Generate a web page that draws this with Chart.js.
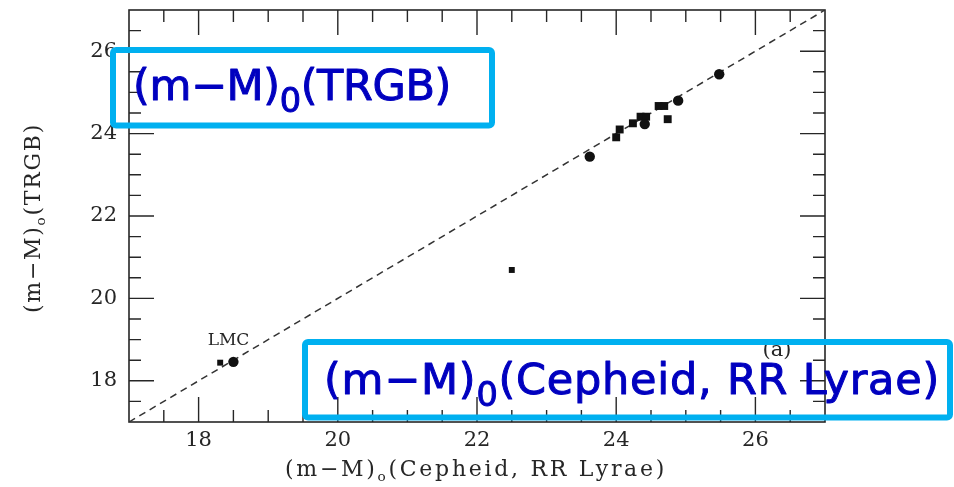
<!DOCTYPE html>
<html>
<head>
<meta charset="utf-8">
<script src="https://cdn.jsdelivr.net/npm/chart.js@4.4.1/dist/chart.umd.min.js"></script>
<style>
  html, body { margin: 0; padding: 0; background: #ffffff; }
  #wrap { width: 954px; height: 487px; position: relative; }
</style>
</head>
<body>
<div id="wrap"><canvas id="c" width="954" height="487"></canvas></div>
<script>
// Distance moduli: TRGB versus Cepheid / RR Lyrae
const axisMin = 17;
const axisMax = 27;
const tickLabels = [18, 20, 22, 24, 26];
const minorStep = 0.5;

// galaxies with filled circles
const circleX = [23.62, 24.41, 24.89, 25.48, 18.50];
const circleY = [23.44, 24.23, 24.80, 25.44, 18.46];
// galaxies with filled squares
const squareX = [24.00, 24.05, 24.24, 24.35, 24.43, 24.61, 24.69, 24.74];
const squareY = [23.91, 24.10, 24.25, 24.41, 24.41, 24.67, 24.67, 24.35];
// small markers (LMC companion point and the outlier)
const smallX = [18.31, 22.50];
const smallY = [18.44, 20.69];
// one-to-one reference line
const lineX = [17, 27];
const lineY = [17, 27];

const xTitle = [{ t: '(m\u2212M)' }, { t: 'o', sub: true }, { t: '(Cepheid, RR Lyrae)' }];
const yTitle = [{ t: '(m\u2212M)' }, { t: 'o', sub: true }, { t: '(TRGB)' }];
const noteTop = [{ t: '(m\u2212M)' }, { t: '0', sub: true }, { t: '(TRGB)' }];
const noteBottom = [{ t: '(m\u2212M)' }, { t: '0', sub: true }, { t: '(Cepheid, RR Lyrae)' }];
const panelTag = '(a)';
const lmcTag = 'LMC';

const zip = (xs, ys) => xs.map((x, i) => ({ x: x, y: ys[i] }));

const INK = '#262626';
const SERIF = '"DejaVu Serif", "Liberation Serif", serif';
const SANS = '"DejaVu Sans", "Noto Sans", sans-serif';

// text runs with subscript pieces
function richWidth(ctx, parts, size, subScale, family) {
  let w = 0;
  parts.forEach(p => {
    ctx.font = (p.sub ? size * subScale : size) + 'px ' + family;
    w += ctx.measureText(p.t).width;
  });
  return w;
}
function drawRich(ctx, parts, x, y, size, subScale, subDrop, family, outline) {
  let cx = x;
  parts.forEach(p => {
    ctx.font = (p.sub ? size * subScale : size) + 'px ' + family;
    const yy = p.sub ? y + subDrop : y;
    ctx.fillText(p.t, cx, yy);
    if (outline) ctx.strokeText(p.t, cx, yy);
    cx += ctx.measureText(p.t).width;
  });
}
function countChars(parts) {
  return parts.reduce((n, p) => n + p.t.length, 0);
}
// spread a run so that it spans the given width
function fitSpacing(ctx, parts, size, subScale, family, width) {
  ctx.letterSpacing = '0px';
  const natural = richWidth(ctx, parts, size, subScale, family);
  ctx.letterSpacing = ((width - natural) / countChars(parts)) + 'px';
}

const framePlugin = {
  id: 'frame',
  beforeDatasetsDraw(chart) {
    const ctx = chart.ctx;
    const a = chart.chartArea;
    const xs = chart.scales.x, ys = chart.scales.y;
    ctx.save();
    ctx.strokeStyle = INK;
    ctx.lineWidth = 1.6;
    ctx.strokeRect(a.left, a.top, a.right - a.left, a.bottom - a.top);

    // inward ticks on all four sides
    const majorLen = 25, minorLen = 12;
    ctx.lineWidth = 1.4;
    for (let v = axisMin + minorStep; v < axisMax - 1e-6; v += minorStep) {
      const isMajor = tickLabels.some(t => Math.abs(t - v) < 1e-6);
      const len = isMajor ? majorLen : minorLen;
      const px = xs.getPixelForValue(v);
      const py = ys.getPixelForValue(v);
      ctx.beginPath();
      ctx.moveTo(px, a.bottom); ctx.lineTo(px, a.bottom - len);
      ctx.moveTo(px, a.top); ctx.lineTo(px, a.top + len);
      ctx.moveTo(a.left, py); ctx.lineTo(a.left + len, py);
      ctx.moveTo(a.right, py); ctx.lineTo(a.right - len, py);
      ctx.stroke();
    }

    // tick labels
    ctx.fillStyle = INK;
    ctx.font = '21px ' + SERIF;
    ctx.textBaseline = 'middle';
    ctx.textAlign = 'center';
    tickLabels.forEach(t => {
      ctx.fillText(String(t), xs.getPixelForValue(t), a.bottom + 19);
    });
    ctx.textAlign = 'right';
    tickLabels.forEach(t => {
      ctx.fillText(String(t), a.left - 12, ys.getPixelForValue(t));
    });

    // axis titles
    ctx.textAlign = 'left';
    ctx.textBaseline = 'alphabetic';
    const tSize = 22, tSub = 0.62, tDrop = 5;
    fitSpacing(ctx, xTitle, tSize, tSub, SERIF, 382);
    let full = richWidth(ctx, xTitle, tSize, tSub, SERIF);
    const xMid = (a.left + a.right) / 2 - 1;
    drawRich(ctx, xTitle, xMid - full / 2, a.bottom + 54, tSize, tSub, tDrop, SERIF);

    fitSpacing(ctx, yTitle, tSize, tSub, SERIF, 190);
    full = richWidth(ctx, yTitle, tSize, tSub, SERIF);
    ctx.translate(40, 218);
    ctx.rotate(-Math.PI / 2);
    drawRich(ctx, yTitle, -full / 2, 0, tSize, tSub, tDrop, SERIF);
    ctx.restore();

    // panel tag and LMC label
    ctx.save();
    ctx.fillStyle = INK;
    ctx.textAlign = 'center';
    ctx.textBaseline = 'middle';
    ctx.font = '21px ' + SERIF;
    ctx.fillText(panelTag, 777, 351);
    ctx.font = '17px ' + SERIF;
    ctx.fillText(lmcTag, xs.getPixelForValue(18.43), ys.getPixelForValue(18.98));
    ctx.restore();
  },
  afterDraw(chart) {
    // highlighted axis names drawn over the plot
    const ctx = chart.ctx;
    ctx.save();
    ctx.strokeStyle = '#00B0F0';
    ctx.lineWidth = 6;
    ctx.lineJoin = 'round';
    ctx.beginPath();
    ctx.roundRect(113, 50, 379, 75.5, 3);
    ctx.stroke();
    ctx.beginPath();
    ctx.roundRect(305, 342, 645, 75.5, 3);
    ctx.stroke();

    ctx.fillStyle = '#0000BF';
    ctx.strokeStyle = '#0000BF';
    ctx.lineWidth = 1;
    ctx.textAlign = 'left';
    ctx.textBaseline = 'alphabetic';
    fitSpacing(ctx, noteTop, 43, 0.78, SANS, 318);
    drawRich(ctx, noteTop, 133, 100, 43, 0.78, 12, SANS, true);
    fitSpacing(ctx, noteBottom, 43, 0.78, SANS, 616);
    drawRich(ctx, noteBottom, 324, 394, 43, 0.78, 12, SANS, true);
    ctx.restore();
  }
};

new Chart(document.getElementById('c'), {
  type: 'scatter',
  data: {
    datasets: [
      {
        type: 'line',
        label: 'one-to-one',
        data: zip(lineX, lineY),
        borderColor: '#333333',
        borderWidth: 1.5,
        borderDash: [7, 5],
        pointRadius: 0,
        fill: false,
        order: 3
      },
      {
        label: 'circles',
        data: zip(circleX, circleY),
        pointStyle: 'circle',
        pointRadius: 5.2,
        backgroundColor: '#111111',
        borderColor: '#111111',
        borderWidth: 0,
        order: 1
      },
      {
        label: 'squares',
        data: zip(squareX, squareY),
        pointStyle: 'rect',
        pointRadius: 5.6,
        backgroundColor: '#111111',
        borderColor: '#111111',
        borderWidth: 0,
        order: 1
      },
      {
        label: 'small',
        data: zip(smallX, smallY),
        pointStyle: 'rect',
        pointRadius: 4.2,
        backgroundColor: '#111111',
        borderColor: '#111111',
        borderWidth: 0,
        order: 1
      }
    ]
  },
  options: {
    responsive: false,
    animation: false,
    devicePixelRatio: 1,
    layout: { padding: { left: 129, right: 129, top: 10, bottom: 65 } },
    plugins: { legend: { display: false }, tooltip: { enabled: false } },
    scales: {
      x: { type: 'linear', min: axisMin, max: axisMax, display: false },
      y: { type: 'linear', min: axisMin, max: axisMax, display: false }
    }
  },
  plugins: [framePlugin]
});
</script>
</body>
</html>
